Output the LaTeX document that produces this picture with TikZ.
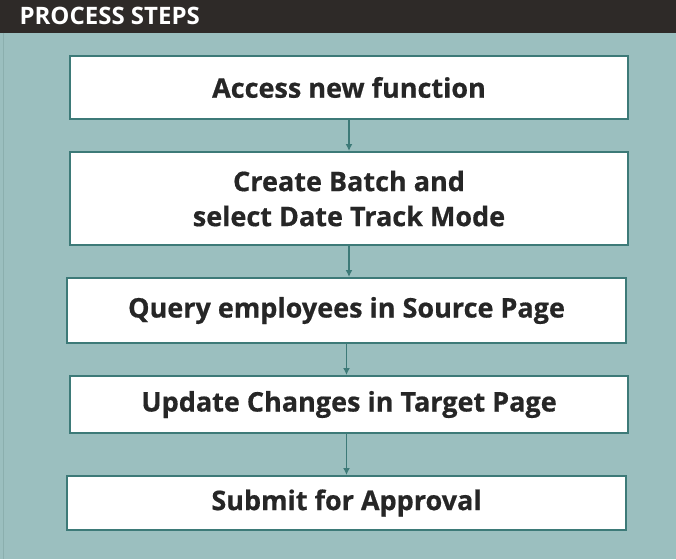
\documentclass[tikz,border=0pt]{standalone}
\usepackage{fontspec}
\usetikzlibrary{arrows.meta}
\setmainfont{Open Sans}[FakeBold=0.6]
\newfontfamily\hdrfont{Open Sans}
\definecolor{bg}{HTML}{9BBFBF}
\definecolor{hdr}{HTML}{2E2A28}
\definecolor{teal}{HTML}{3D7A78}
\begin{document}
\begin{tikzpicture}[x=1pt,y=-1pt,
  stepbox/.style={draw=teal,line width=2pt,fill=white,inner sep=0pt,font=\bfseries\fontsize{27}{35}\selectfont,align=center,text=black!85},
  conn/.style={draw=teal,line width=1.8pt,-{Latex[length=7pt,width=7pt]}}]
\useasboundingbox (0,0) rectangle (676,559);
\fill[bg] (0,0) rectangle (676,559);
\fill[hdr] (0,0) rectangle (676,33);
\draw[teal!60,line width=1pt] (3,33) -- (3,559);
\node[anchor=west,text=white,font=\hdrfont\bfseries\fontsize{24}{26}\selectfont] (h) at (16,16) {PROCESS STEPS};
\node[stepbox,minimum width=558,minimum height=63] (a) at (349,87.5) {Access new function};
\node[stepbox,minimum width=558,minimum height=93] (b) at (349,198.5) {Create Batch and\\select Date Track Mode};
\node[stepbox,minimum width=559,minimum height=65] (c) at (346.5,310.5) {Query employees in Source Page};
\node[stepbox,minimum width=558,minimum height=57] (d) at (349,404.5) {Update Changes in Target Page};
\node[stepbox,minimum width=559,minimum height=54] (e) at (346.5,503) {Submit for Approval};
\draw[conn] (a.south) -- (b.north);
\draw[conn] (b.south) -- (b.south|-c.north);
\draw[conn] (c.south) -- (c.south|-d.north);
\draw[conn] (d.south -| c.south) -- (c.south|-e.north);
\end{tikzpicture}
\end{document}
